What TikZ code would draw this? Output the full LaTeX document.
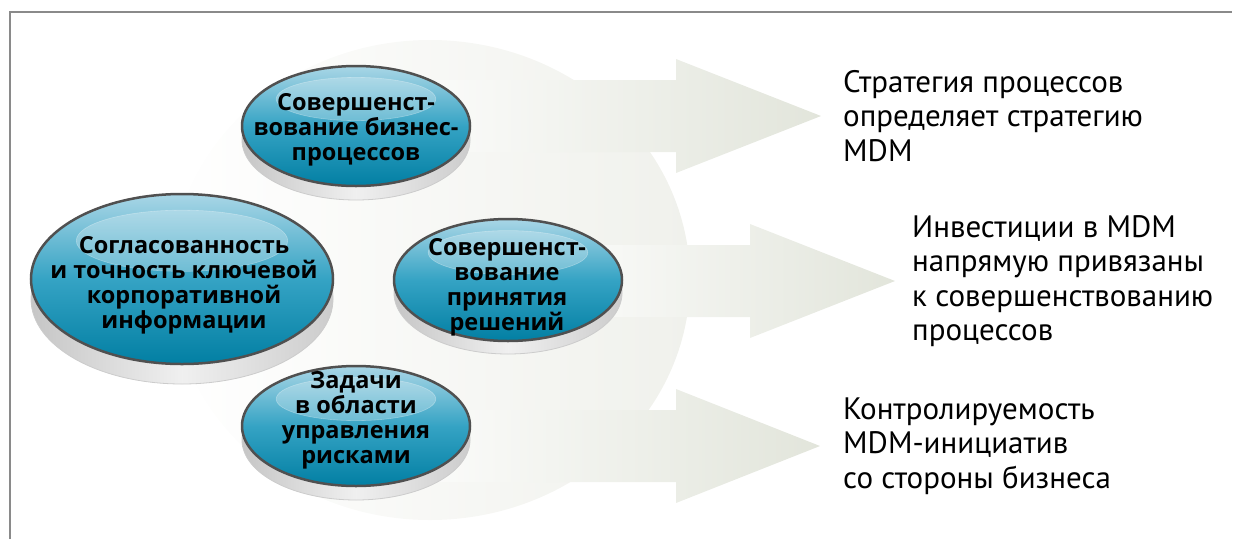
\documentclass[tikz,border=0pt]{standalone}
\usepackage{fontspec}
\setmainfont{PT Sans}
\newfontfamily\discfont{Open Sans}
\definecolor{frameline}{HTML}{8A8A8A}
\definecolor{bgtint}{HTML}{F0F1EC}
\definecolor{bandtint}{HTML}{E2E5DB}
\definecolor{facetop}{HTML}{A9D6E6}
\definecolor{facemid}{HTML}{35A3C4}
\definecolor{facebot}{HTML}{027FA3}
\definecolor{ringline}{HTML}{505050}
\begin{document}
\begin{tikzpicture}[x=1pt,y=-1pt,
	band/.style={left color=white,right color=bandtint},
	rim/.style={left color=gray!45,right color=gray!40,middle color=gray!12},
	face/.style={top color=facetop,bottom color=facebot,middle color=facemid,draw=ringline,line width=2.5pt},
	gloss/.style={fill=white,fill opacity=0.25,draw=white,draw opacity=0.3,line width=0.6pt},
	disctext/.style={font=\discfont\bfseries\fontsize{23.5}{25}\selectfont,align=center,inner sep=0pt},
	sidetext/.style={font=\fontsize{31}{34.5}\selectfont,align=left,anchor=west,inner sep=0pt}]
\useasboundingbox (0,0) rectangle (1233,539);
\draw[frameline,line width=1.5pt] (10,539) -- (10,12) -- (1232,12);
\shade[left color=white,right color=bgtint] (430,280) ellipse [x radius=260pt,y radius=240pt];
\foreach \y/\hx/\tx/\sx in {116/676/821/360,281/750/895/510,446/676/820/360}
	\shade[band] (\sx,\y-36) -- (\hx,\y-36) -- (\hx,\y-57) -- (\tx,\y) -- (\hx,\y+57) -- (\hx,\y+36) -- (\sx,\y+36) -- cycle;
\foreach \cx/\cy/\rx/\ry/\rh in {356/126/114/60/14,182/279/151/85/20,508/280/114/61/13,356/426/114/60/14}{
	\shade[rim] (\cx-\rx,\cy) rectangle (\cx+\rx,\cy+\rh);
	\shadedraw[rim,draw=gray!40,line width=0.8pt] (\cx,\cy+\rh) ellipse [x radius=\rx*1pt,y radius=\ry*1pt];
	\shadedraw[face] (\cx,\cy) ellipse [x radius=\rx*1pt,y radius=\ry*1pt];
	\filldraw[gloss] (\cx,\cy-0.45*\ry) ellipse [x radius=0.7*\rx*1pt,y radius=0.36*\ry*1pt];
}
\node[disctext] (bizproc) at (356,130) {Совершенст-\\вование бизнес-\\процессов};
\node[disctext] (datacons) at (184,285) {Согласованность\\и точность ключевой\\корпоративной\\информации};
\node[disctext] (decision) at (507,287) {Совершенст-\\вование\\принятия\\решений};
\node[disctext] (risk) at (356,420) {Задачи\\в области\\управления\\рисками};
\node[sidetext] (strategy) at (843,116) {Стратегия процессов\\определяет стратегию\\MDM};
\node[sidetext] (invest) at (912,281) {Инвестиции в MDM\\напрямую привязаны\\к совершенствованию\\процессов};
\node[sidetext] (control) at (843,446) {Контролируемость\\MDM-инициатив\\со стороны бизнеса};
\end{tikzpicture}
\end{document}
